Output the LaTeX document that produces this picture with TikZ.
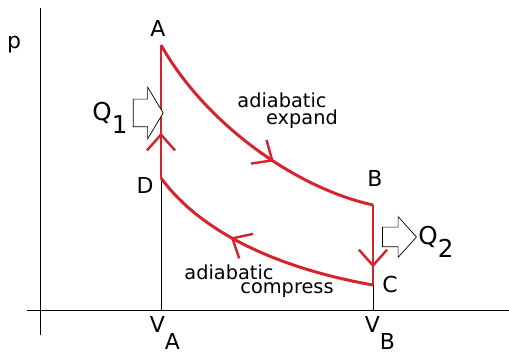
\documentclass[tikz,border=0pt]{standalone}
\usepackage{fontspec}
\setmainfont{DejaVu Sans}
\usetikzlibrary{arrows.meta,decorations.markings,shapes.arrows}
\definecolor{cyclered}{RGB}{214,36,46}

\begin{document}
\begin{tikzpicture}[every node/.style={font=\fontsize{11}{13}\selectfont},
  cycle/.style={draw=cyclered,line width=1.7pt,line join=round},
  midarrow/.style={postaction={decorate,decoration={markings,
    mark=at position #1 with {\arrow[cyclered,line width=1.4pt]{Straight Barb[length=9pt,width=16pt]}}}}},
  heat/.style={single arrow,draw,fill=white,thin,inner xsep=0pt,minimum width=0pt},
  corner/.style={font=\fontsize{12.5}{14}\selectfont}]
\useasboundingbox (0,0) rectangle (10.18,7.16);
% axes
\draw (0.8,0.46) -- (0.8,7.0);
\draw (0.54,0.96) -- (10.18,0.96);
\node[corner] (p) at (0.28,6.26) {p};
% corners of the cycle
\coordinate (A) at (3.22,6.26);
\coordinate (B) at (7.46,3.06);
\coordinate (C) at (7.46,1.46);
\coordinate (D) at (3.22,3.60);
\coordinate (VAfoot) at (3.22,0.96);
\coordinate (VBfoot) at (7.46,0.96);
\draw (D) -- (VAfoot);
\draw (C) -- (VBfoot);
% the cycle
\draw[cycle,midarrow=0.6] (A) .. controls (4.1,4.7) and (5.9,3.4) .. (B);
\draw[cycle,midarrow=0.78] (B) -- (C);
\draw[cycle,midarrow=0.62] (C) .. controls (5.8,1.75) and (4.1,2.4) .. (D);
\draw[cycle,midarrow=0.34] (D) -- (A);
% labels
\node[corner] (labA) at (3.16,6.6) {A};
\node[corner] (labB) at (7.5,3.6) {B};
\node[corner] (labC) at (7.8,1.46) {C};
\node[corner] (labD) at (2.9,3.46) {D};
\node[corner] (VA) at (3.3,0.5) {V\raisebox{-0.75em}{A}};
\node[corner] (VB) at (7.6,0.5) {V\raisebox{-0.75em}{B}};
\node (exp1) at (5.64,5.16) {adiabatic};
\node (exp2) at (6.04,4.78) {expand};
\node (com1) at (4.58,1.72) {adiabatic};
\node (com2) at (5.74,1.36) {compress};
% heat in and out
\node[heat,minimum height=0.6cm,inner ysep=0.27cm,single arrow head extend=0.24cm,
  single arrow tip angle=118] (q1arrow) at (2.88,4.9) {};
\node[heat,minimum height=0.68cm,inner ysep=0.19cm,single arrow head extend=0.21cm,
  single arrow tip angle=96] (q2arrow) at (7.9,2.42) {};
\node (Q1) at (2.2,4.8) {\fontsize{14}{16}\selectfont Q\raisebox{-0.5em}{1}};
\node (Q2) at (8.72,2.32) {\fontsize{14}{16}\selectfont Q\raisebox{-0.5em}{2}};
\end{tikzpicture}
\end{document}
